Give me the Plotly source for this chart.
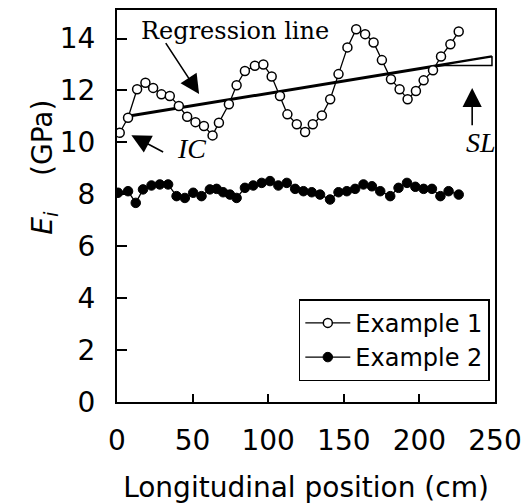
import plotly.graph_objects as go

# Longitudinal position (cm) and modulus E_i (GPa)
pos_ex1 = [1.8, 7.3, 13.3, 18.8, 23.9, 29.4, 34.9, 40.9, 46.4, 51.9, 57.5, 63.2, 67.4, 74.0,
           79.1, 84.6, 91.2, 96.8, 102.3, 107.8, 112.7, 118.9, 124.4, 129.5, 135.5, 141.0,
           146.5, 152.4, 158.2, 164.1, 169.7, 175.2, 181.2, 186.9, 192.2, 197.7, 202.8,
           209.0, 214.3, 220.5, 226.0]
ei_ex1 = [10.37, 10.95, 12.05, 12.3, 12.1, 11.85, 11.79, 11.4, 10.99, 10.78, 10.63, 10.27,
          10.76, 11.47, 12.2, 12.75, 12.95, 13.0, 12.54, 11.79, 11.08, 10.7, 10.4, 10.7,
          11.04, 11.66, 12.63, 13.66, 14.36, 14.17, 13.85, 13.17, 12.43, 12.05, 11.66,
          11.98, 12.39, 12.78, 13.31, 13.78, 14.27]

pos_ex2 = [0.7, 7.3, 12.4, 17.2, 22.8, 28.3, 33.8, 39.4, 44.9, 50.4, 55.9, 61.4, 65.9, 70.2,
           74.7, 79.1, 84.6, 90.1, 95.7, 101.2, 106.7, 112.3, 117.8, 123.3, 128.8, 134.3,
           140.9, 146.5, 152.0, 157.5, 163.0, 168.6, 174.1, 180.7, 186.2, 191.8, 197.3,
           202.8, 208.3, 213.9, 219.3, 226.0]
ei_ex2 = [8.06, 8.12, 7.67, 8.19, 8.34, 8.38, 8.38, 7.93, 7.86, 8.06, 7.93, 8.19, 8.21, 8.08,
          7.99, 7.86, 8.25, 8.34, 8.44, 8.51, 8.34, 8.44, 8.21, 8.12, 8.08, 7.99, 7.80, 8.08,
          8.12, 8.21, 8.38, 8.31, 8.12, 7.93, 8.25, 8.44, 8.29, 8.21, 8.21, 7.93, 8.12, 7.99]

# Regression line of Example 1 and the slope (SL) wedge
reg_intercept = 10.94
reg_slope = 0.0095
reg_span = [5, 248]
wedge_start = 213

x_ticks = [0, 50, 100, 150, 200, 250]
y_ticks = [0, 2, 4, 6, 8, 10, 12, 14]

def reg(x):
    return reg_intercept + reg_slope * x

fig = go.Figure()

fig.add_trace(go.Scatter(
    x=reg_span, y=[reg(v) for v in reg_span], mode="lines",
    line=dict(color="black", width=3), showlegend=False, hoverinfo="skip"))

wx = [wedge_start, reg_span[1], reg_span[1], wedge_start]
wy = [reg(wedge_start), reg(reg_span[1]), reg(wedge_start), reg(wedge_start)]
fig.add_trace(go.Scatter(
    x=wx, y=wy, mode="lines", fill="toself", fillcolor="white",
    line=dict(color="black", width=1.5), showlegend=False, hoverinfo="skip"))

fig.add_trace(go.Scatter(
    x=pos_ex1, y=ei_ex1, mode="lines+markers", name="Example 1",
    line=dict(color="black", width=1.3),
    marker=dict(symbol="circle", size=9, color="white", line=dict(color="black", width=1.5))))

fig.add_trace(go.Scatter(
    x=pos_ex2, y=ei_ex2, mode="lines+markers", name="Example 2",
    line=dict(color="black", width=1.3),
    marker=dict(symbol="circle", size=9.5, color="black", line=dict(color="black", width=1))))

arrow = dict(xref="x", yref="y", axref="x", ayref="y", text="", showarrow=True,
             arrowhead=2, arrowsize=2.4, arrowwidth=1.6, arrowcolor="black")
fig.add_annotation(x=54.3, y=11.86, ax=31.6, ay=13.88, **arrow)
fig.add_annotation(x=9.5, y=10.28, ax=31.5, ay=9.6, **arrow)
fig.add_annotation(x=234.9, y=12.1, ax=234.9, ay=10.6, **arrow)

fig.add_annotation(x=78, y=14.3, xref="x", yref="y", text="Regression line", showarrow=False,
                   font=dict(family="DejaVu Serif", size=24, color="black"))
fig.add_annotation(x=49.5, y=9.78, xref="x", yref="y", text="<i>IC</i>", showarrow=False,
                   font=dict(family="Liberation Serif", size=28, color="black"))
fig.add_annotation(x=241, y=9.98, xref="x", yref="y", text="<i>SL</i>", showarrow=False,
                   font=dict(family="Liberation Serif", size=28, color="black"))

fig.add_annotation(x=-0.245, y=0.6, xref="paper", yref="paper", textangle=-90,
                   text="<i>E</i><sub><i>i</i></sub>&nbsp;&nbsp;&nbsp;&nbsp;(GPa)",
                   showarrow=False,
                   font=dict(family="DejaVu Sans", size=28, color="black"))

axis_common = dict(showline=True, linecolor="black", linewidth=2, mirror=True,
                   ticks="inside", tickcolor="black", tickwidth=1.5, showgrid=False,
                   zeroline=False, automargin=False,
                   tickfont=dict(family="DejaVu Sans", size=28, color="black"))

fig.update_xaxes(range=[0, 250], tickvals=x_ticks, ticklen=8, ticklabelstandoff=12,
                 title=dict(text="Longitudinal position (cm)", standoff=26,
                            font=dict(family="DejaVu Sans", size=28, color="black")),
                 **axis_common)
fig.update_yaxes(range=[0, 15.1], tickvals=y_ticks, ticklen=10, ticklabelstandoff=14,
                 **axis_common)

fig.update_layout(
    width=523, height=504,
    margin=dict(l=117, r=28, t=10, b=102, autoexpand=False),
    paper_bgcolor="white", plot_bgcolor="white",
    legend=dict(x=0.481, y=0.262, xanchor="left", yanchor="top",
                bgcolor="white", bordercolor="black", borderwidth=1.5,
                itemwidth=45, font=dict(family="DejaVu Sans", size=24, color="black"),
                tracegroupgap=0),
)

fig.write_html("out.html")
